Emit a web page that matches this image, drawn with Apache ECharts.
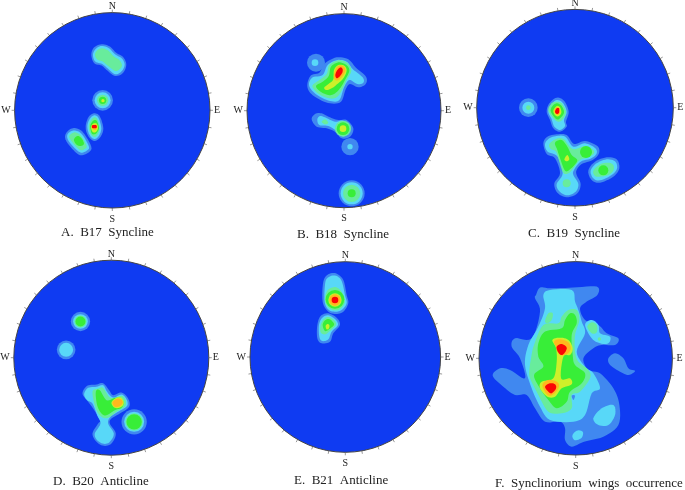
<!DOCTYPE html>
<html>
<head>
<meta charset="utf-8">
<title>Stereonet contours</title>
<script src="https://cdn.jsdelivr.net/npm/echarts@6/dist/echarts.min.js"></script>
<style>
html, body { margin: 0; padding: 0; background: #fff; }
#main { width: 685px; height: 490px; }
</style>
</head>
<body>
<div id="main"></div>
<script>
// each contour: [level, [x, y, r]] is a round one, [level, [x, y, x, y, ...]] an outline
// values are net coordinates, each net has its own range (see netRange)
var captions = ['A.  B17  Syncline', 'B.  B18  Syncline', 'C.  B19  Syncline', 'D.  B20  Anticline', 'E.  B21  Anticline', 'F.  Synclinorium  wings  occurrence'];
var compass = { 0: 'N', 90: '{e|E}', 180: '{s|S}', 270: '{w|W}' };
var levelColors = ['#0f3bf2', '#4088f0', '#58d8f8', '#68ec9c', '#38ee38', '#cdf02a', '#ffb81e', '#fa0505'];

var netA = [
	[1, [274,165, 282,143, 305,133, 330,140, 348,158, 370,172, 379,195, 368,220, 345,228, 322,212, 305,197, 283,190]],
	[2, [279,165, 287,147, 305,138, 327,145, 345,163, 366,176, 374,195, 364,215, 345,223, 325,207, 307,192, 286,185]],
	[3, [285,163, 293,150, 307,145, 325,152, 342,170, 358,180, 366,196, 358,209, 345,213, 328,201, 308,185, 291,178]],
	[1, [308,301, 31]], [2, [308,301, 24]], [3, [308,301, 17]], [4, [308,301, 11]], [5, [309,302, 5]],
	[1, [258,372, 268,348, 285,340, 300,350, 310,385, 302,410, 285,423, 270,415, 259,395]],
	[2, [263,372, 272,353, 285,346, 296,355, 304,385, 297,407, 285,417, 273,411, 264,393]],
	[3, [267,375, 275,358, 285,352, 293,360, 299,385, 293,403, 285,411, 275,406, 268,391]],
	[4, [271,378, 278,364, 286,360, 292,366, 297,385, 290,399, 283,403, 275,400]],
	[5, [273,380, 282,370, 291,372, 294,385, 288,396, 278,396]],
	[6, [276,380, 283,374, 291,376, 290,386, 283,390]],
	[7, [277,376, 289,376, 289,384, 277,384]],
	[1, [196,405, 210,388, 228,385, 250,398, 274,440, 265,458, 243,466, 225,455, 200,425]],
	[2, [202,405, 213,394, 228,392, 247,404, 267,440, 260,452, 244,458, 228,448, 206,423]],
	[3, [208,408, 218,399, 230,398, 245,410, 260,438, 254,447, 243,451, 230,442, 212,420]],
	[4, [222,418, 232,408, 244,414, 252,430, 246,437, 235,437, 226,430]]
];
var netB = [
	[1, [258,188, 27]], [2, [255,188, 10]],
	[1, [232,252, 243,226, 268,218, 285,190, 320,172, 355,178, 378,203, 408,230, 407,252, 385,262, 360,252, 347,268, 333,305, 300,310, 262,295, 238,275]],
	[2, [237,250, 248,232, 278,225, 293,195, 322,180, 350,185, 368,207, 398,232, 400,248, 382,252, 358,240, 342,262, 328,300, 300,303, 266,288, 243,268]],
	[3, [248,255, 268,240, 290,222, 298,195, 325,181, 352,188, 364,212, 350,240, 336,270, 320,292, 298,295, 268,283, 252,268]],
	[4, [258,258, 278,245, 296,228, 303,200, 325,187, 348,194, 358,212, 345,240, 330,265, 312,282, 295,285, 272,275]],
	[5, [283,262, 298,250, 310,238, 312,210, 325,195, 343,197, 350,212, 340,235, 322,252, 305,265, 288,270]],
	[6, [311,228, 318,205, 330,196, 342,200, 346,212, 338,228, 326,240, 316,240]],
	[7, [316,224, 322,210, 332,202, 338,208, 336,220, 326,232, 319,234]],
	[1, [245,358, 255,342, 275,340, 300,352, 325,360, 350,360, 370,385, 360,410, 335,415, 315,395, 290,385, 260,380]],
	[2, [262,358, 270,348, 285,352, 315,365, 340,362, 362,385, 350,405, 335,408, 318,392, 295,378, 268,375]],
	[3, [275,365, 285,358, 295,368, 285,373]],
	[3, [339,386, 24]], [4, [339,386, 19]], [5, [339,386, 10]],
	[1, [360,440, 26]], [2, [360,440, 8]],
	[1, [365,580, 39]], [2, [365,580, 33]], [3, [365,580, 26]], [4, [365,580, 12]]
];
var netC = [
	[1, [205,323, 28]], [2, [205,323, 18]], [3, [205,323, 7]],
	[1, [260,335, 268,310, 290,293, 312,302, 326,335, 318,365, 320,380, 300,395, 280,385, 270,360]],
	[2, [265,335, 275,312, 290,300, 308,308, 320,335, 312,360, 315,378, 300,390, 283,380, 275,358]],
	[3, [265,330, 275,310, 290,305, 305,310, 318,335, 308,358, 295,365, 280,355]],
	[4, [272,330, 280,315, 292,310, 305,318, 312,338, 300,355, 290,358, 278,345]],
	[5, [280,332, 290,318, 300,322, 304,338, 295,349, 285,345]],
	[6, [283,332, 290,322, 298,325, 300,338, 292,345]],
	[7, [285,335, 290,325, 297,325, 297,338, 290,342]],
	[1, [250,430, 262,410, 290,403, 320,405, 342,432, 375,423, 412,438, 417,460, 398,480, 365,492, 350,510, 350,525, 362,552, 352,580, 320,592, 292,578, 283,550, 300,520, 285,475, 260,462]],
	[2, [255,432, 268,415, 290,408, 316,410, 340,440, 375,430, 405,444, 410,460, 394,475, 362,485, 342,510, 340,525, 355,552, 347,575, 322,586, 298,574, 290,552, 308,520, 293,470, 263,455]],
	[3, [268,432, 290,416, 312,418, 338,447, 375,438, 398,448, 402,460, 385,472, 360,480, 340,505, 325,520, 310,518, 298,485, 288,455, 272,447]],
	[4, [285,428, 305,420, 322,440, 335,465, 352,482, 330,508, 315,512, 302,480, 292,450]],
	[5, [313,478, 322,465, 328,478, 320,484]],
	[4, [378,456, 18]], [3, [320,550, 12]],
	[1, [385,512, 405,485, 440,472, 470,478, 478,505, 460,530, 420,548, 395,540]],
	[2, [392,512, 410,490, 440,478, 465,484, 471,505, 455,525, 420,541, 400,535]],
	[3, [400,512, 420,493, 445,488, 460,495, 460,512, 445,525, 420,530, 405,528]],
	[4, [430,511, 15]]
];
var netD = [
	[1, [242,229, 29]], [2, [242,229, 22]], [3, [242,229, 18]], [4, [242,229, 15]],
	[1, [199,314, 28]], [2, [199,314, 21]],
	[1, [403,530, 38]], [2, [403,530, 30]], [3, [403,530, 26]], [4, [403,530, 23]],
	[1, [248,445, 262,422, 290,418, 310,414, 328,435, 340,450, 365,442, 385,460, 388,485, 360,505, 335,520, 330,535, 348,565, 335,595, 312,602, 290,590, 278,565, 295,535, 300,525, 280,490, 265,470]],
	[2, [253,447, 265,428, 290,425, 310,420, 322,440, 340,457, 365,448, 380,462, 382,482, 358,498, 332,515, 325,535, 342,565, 330,590, 312,596, 292,585, 285,565, 302,535, 292,510, 278,475, 262,465]],
	[3, [278,440, 295,430, 310,428, 328,455, 345,458, 367,452, 378,467, 375,485, 350,500, 325,518, 305,515, 288,490]],
	[4, [288,440, 300,435, 320,465, 345,458, 362,458, 372,472, 365,488, 345,495, 320,510, 305,505, 292,480]],
	[5, [335,472, 350,458, 365,458, 372,472, 365,485, 345,488]],
	[6, [338,472, 350,461, 363,462, 369,472, 360,483, 345,485]]
];
var netE = [
	[1, [280,110, 295,88, 318,85, 340,105, 350,150, 355,175, 340,200, 318,207, 295,200, 278,170]],
	[2, [286,112, 298,95, 318,92, 335,108, 345,150, 350,175, 335,195, 318,200, 297,195, 284,170]],
	[3, [290,140, 305,128, 322,128, 338,145, 345,170, 333,190, 316,196, 298,190, 285,168]],
	[4, [315,163, 28]], [5, [315,165, 20]], [6, [315,165, 17]], [7, [315,165, 10]],
	[1, [262,240, 272,213, 295,205, 320,218, 330,240, 310,265, 300,290, 275,295, 262,280]],
	[2, [267,240, 277,218, 295,211, 315,222, 324,240, 305,260, 295,283, 277,288, 268,275]],
	[3, [272,240, 282,222, 295,216, 312,225, 318,240, 300,258, 285,268, 272,262]],
	[4, [278,240, 285,226, 297,222, 308,230, 312,240, 297,253, 285,258]],
	[5, [287,243, 292,237, 298,240, 297,250, 290,253]]
];
var netF = [
	[1, [228,150, 240,128, 270,130, 340,128, 410,125, 412,150, 380,170, 360,190, 375,225, 415,240, 440,265, 475,280, 465,300, 425,300, 400,310, 370,340, 385,375, 420,385, 460,430, 478,480, 475,540, 430,575, 372,590, 335,605, 315,585, 315,550, 300,530, 255,530, 225,490, 200,450, 165,450, 130,425, 98,392, 120,370, 150,375, 195,400, 180,340, 155,305, 165,280, 215,280, 240,200, 225,160]],
	[1, [445,340, 465,325, 490,340, 505,370, 525,378, 505,390, 480,380, 450,360]],
	[2, [250,150, 270,135, 335,135, 345,170, 355,195, 365,230, 375,265, 350,320, 375,365, 400,385, 420,430, 395,445, 375,510, 340,530, 270,525, 240,485, 215,430, 195,360, 205,300, 235,245, 255,190]],
	[2, [375,240, 395,225, 415,240, 420,265, 450,275, 445,295, 420,295, 395,280]],
	[3, [382,245, 395,232, 410,240, 410,262, 395,265]],
	[3, [418,282, 5]],
	[2, [400,520, 425,490, 460,480, 465,510, 445,540, 415,540]],
	[2, [337,572, 350,557, 368,560, 365,578, 345,586]],
	[3, [255,228, 265,205, 278,205, 275,225, 262,235]],
	[3, [305,215, 325,195, 350,195, 358,225, 345,270, 345,320, 355,350, 385,375, 390,400, 360,440, 335,450, 335,490, 305,505, 265,500, 235,450, 210,400, 208,375, 213,340, 222,300, 250,240, 295,235]],
	[1, [335,452, 345,452, 340,465]],
	[4, [315,225, 330,205, 345,210, 350,235, 335,270, 338,330, 345,360, 375,385, 365,415, 330,440, 320,470, 290,490, 265,465, 240,430, 222,390, 250,365, 235,335, 235,295, 255,260, 305,250]],
	[5, [277,285, 300,278, 325,285, 338,310, 330,330, 310,335, 303,400, 330,400, 335,418, 305,430, 285,455, 262,455, 240,430, 245,410, 280,400, 290,350, 288,310]],
	[6, [282,290, 300,283, 325,292, 332,312, 320,328, 300,330, 290,310]],
	[6, [247,420, 265,405, 290,410, 297,425, 280,448, 262,450]],
	[7, [290,305, 305,297, 320,308, 313,325, 303,330, 293,320]],
	[7, [255,425, 270,415, 285,418, 288,430, 275,445, 265,440]]
];
var nets = [netA, netB, netC, netD, netE, netF];
// net range in its own units: [xMin, xMax, yTop, yBottom]
var netRange = [[44, 630, 38, 624], [51, 633, 41, 623], [50, 640, 28, 618], [42, 627, 45, 630], [60, 632, 50, 622], [57, 637, 50, 630]];

// layout on the page
var panels = [
	{ cx: 112.3, cy: 110.3, r: 97.7, capX: 61, capY: 226 },
	{ cx: 344, cy: 110.7, r: 97, capX: 297, capY: 228 },
	{ cx: 575, cy: 107.7, r: 98.3, capX: 528, capY: 227 },
	{ cx: 111.3, cy: 357.7, r: 97.5, capX: 53, capY: 475 },
	{ cx: 345.3, cy: 357, r: 95.3, capX: 294, capY: 474 },
	{ cx: 575.7, cy: 358.3, r: 96.7, capX: 495, capY: 477 }
];

// closed catmull-rom through the read points, so outlines round off but keep their size
function roundOutline(points) {
	var out = [];
	var n = points.length;
	for (var i = 0; i < n; i++) {
		var p0 = points[(i + n - 1) % n], p1 = points[i], p2 = points[(i + 1) % n], p3 = points[(i + 2) % n];
		for (var s = 0; s < 6; s++) {
			var t = s / 6, t2 = t * t, t3 = t2 * t;
			out.push([
				0.5 * (2 * p1[0] + (p2[0] - p0[0]) * t + (2 * p0[0] - 5 * p1[0] + 4 * p2[0] - p3[0]) * t2 + (3 * p1[0] - p0[0] - 3 * p2[0] + p3[0]) * t3),
				0.5 * (2 * p1[1] + (p2[1] - p0[1]) * t + (2 * p0[1] - 5 * p1[1] + 4 * p2[1] - p3[1]) * t2 + (3 * p1[1] - p0[1] - 3 * p2[1] + p3[1]) * t3)
			]);
		}
	}
	return out;
}

function drawContour(contours) {
	return function (params, api) {
		var c = contours[params.dataIndex];
		var pts = c[1];
		var style = { fill: levelColors[c[0]] };
		if (pts.length === 3) {
			var centre = api.coord([pts[0], pts[1]]);
			return { type: 'circle', shape: { cx: centre[0], cy: centre[1], r: api.size([pts[2], pts[2]])[0] }, style: style };
		}
		var points = [];
		for (var i = 0; i < pts.length; i += 2) {
			points.push(api.coord([pts[i], pts[i + 1]]));
		}
		return { type: 'polygon', shape: { points: roundOutline(points) }, style: style };
	};
}

var option = { backgroundColor: '#fff', animation: false, title: [], grid: [], xAxis: [], yAxis: [], polar: [], angleAxis: [], radiusAxis: [], series: [] };

panels.forEach(function (p, i) {
	var range = netRange[i];
	var contours = nets[i];
	option.title.push({
		text: captions[i], left: p.capX, top: p.capY, padding: 0,
		textStyle: { fontFamily: 'Liberation Serif', fontWeight: 'normal', fontSize: 13, color: '#222' }
	});
	option.grid.push({ left: p.cx - p.r, top: p.cy - p.r, width: 2 * p.r, height: 2 * p.r });
	option.xAxis.push({ type: 'value', gridIndex: i, min: range[0], max: range[1], show: false });
	option.yAxis.push({ type: 'value', gridIndex: i, min: range[2], max: range[3], inverse: true, show: false });
	option.polar.push({ center: [p.cx, p.cy], radius: p.r });
	// rim ticks every 10 degrees
	option.angleAxis.push({
		polarIndex: i, type: 'value', min: 0, max: 360, interval: 10, startAngle: 90, z: 5,
		axisLine: { lineStyle: { color: '#444', width: 1 } },
		axisTick: { length: 3, lineStyle: { color: '#999', width: 1 } },
		splitLine: { show: false },
		axisLabel: {
			margin: 1, hideOverlap: false, fontFamily: 'Liberation Serif', fontSize: 10, color: '#222',
			formatter: function (v) { return compass[v] || ''; },
			rich: {
				e: { padding: [0, 0, 0, 3], fontFamily: 'Liberation Serif', fontSize: 10, color: '#222' },
				w: { padding: [0, 3, 0, 0], fontFamily: 'Liberation Serif', fontSize: 10, color: '#222' },
				s: { padding: [5, 0, 0, 0], fontFamily: 'Liberation Serif', fontSize: 10, color: '#222' }
			}
		}
	});
	option.radiusAxis.push({ polarIndex: i, min: 0, max: 1, show: false });
	// blue disc first, contours on top in list order
	option.series.push({
		type: 'custom', xAxisIndex: i, yAxisIndex: i, clip: false, silent: true,
		renderItem: function (params, api) {
			var c = api.coord([(range[0] + range[1]) / 2, (range[2] + range[3]) / 2]);
			return { type: 'circle', shape: { cx: c[0], cy: c[1], r: p.r }, style: { fill: levelColors[0] } };
		},
		encode: { x: 0, y: 1 },
		data: [[(range[0] + range[1]) / 2, (range[2] + range[3]) / 2]]
	});
	option.series.push({
		type: 'custom', xAxisIndex: i, yAxisIndex: i, clip: false, silent: true,
		renderItem: drawContour(contours),
		encode: { x: 0, y: 1 },
		data: contours.map(function (c) { return [c[1][0], c[1][1]]; })
	});
});

var chart = echarts.init(document.getElementById('main'));
chart.setOption(option);
window.addEventListener('resize', function () {
	chart.resize();
});
</script>
</body>
</html>
